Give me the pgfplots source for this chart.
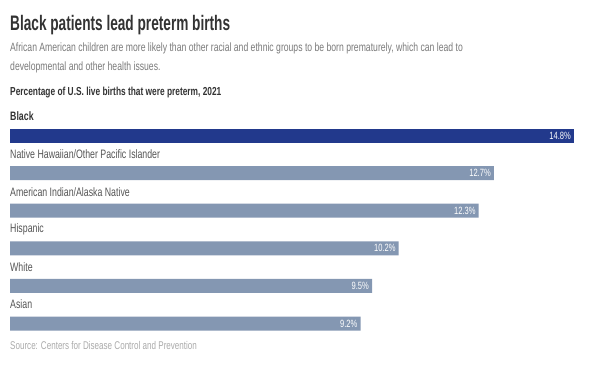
\documentclass[border=0pt]{standalone}
\usepackage{pgfplots}
\pgfplotsset{compat=1.18}
\usepackage{fontspec}
\setmainfont{Liberation Sans}[FakeStretch=0.72]
\newfontfamily\titlefont{Liberation Sans}[FakeStretch=0.65]
\definecolor{darkbar}{HTML}{22398C}
\definecolor{lightbar}{HTML}{8497B2}
\definecolor{titlec}{HTML}{333333}
\definecolor{labc}{HTML}{555555}
\definecolor{subc}{HTML}{7A7A7A}
\definecolor{srcc}{HTML}{AAAAAA}
\begin{document}
\begin{tikzpicture}[x=1pt,y=-1pt]
\path[use as bounding box] (0,0) rectangle (600,368);
\node[anchor=west,inner sep=0pt,font=\titlefont\fontsize{21}{24}\selectfont\bfseries,text=titlec] at (10,25) {Black patients lead preterm births};
\node[anchor=west,inner sep=0pt,font=\fontsize{12}{14}\selectfont,text=subc] at (10,48) {African American children are more likely than other racial and ethnic groups to be born prematurely, which can lead to};
\node[anchor=west,inner sep=0pt,font=\fontsize{12}{14}\selectfont,text=subc] at (10,67) {developmental and other health issues.};
\node[anchor=west,inner sep=0pt,font=\fontsize{11.6}{13}\selectfont\bfseries,text=titlec] at (10,93) {Percentage of U.S. live births that were preterm, 2021};
\node[anchor=west,inner sep=0pt,font=\fontsize{11.2}{13}\selectfont,text=srcc] at (10,345) {Source: Centers for Disease Control and Prevention};
\begin{axis}[
  at={(10pt,-116.7pt)}, anchor=north west,
  scale only axis, width=564pt, height=225.6pt,
  xmin=0, xmax=14.8, ymin=-0.5, ymax=5.5, y dir=reverse,
  axis lines=none, xtick=\empty, ytick=\empty,
  xbar, bar width=14pt, bar shift=0pt,
  clip=false,
  /pgf/number format/assume math mode=true,
  point meta=x,
  nodes near coords={\pgfmathprintnumber[fixed,fixed zerofill,precision=1]{\pgfplotspointmeta}\%},
  every node near coord/.append style={anchor=east, xshift=-3pt, text=white, font=\fontsize{10.5}{12}\selectfont, inner sep=0pt},
]
\addplot[fill=darkbar, draw=none] coordinates {(14.8,0)};
\addplot[fill=lightbar, draw=none] coordinates {(12.7,1) (12.3,2) (10.2,3) (9.5,4) (9.2,5)};
\begin{scope}[every node/.style={anchor=west,inner sep=0pt,text=labc,font=\fontsize{12.2}{14}\selectfont}]
\node[text=titlec,font=\fontsize{12.2}{14}\selectfont\bfseries] at ([yshift=19pt]axis cs:0,0) {Black};
\node at ([yshift=19pt]axis cs:0,1) {Native Hawaiian/Other Pacific Islander};
\node at ([yshift=19pt]axis cs:0,2) {American Indian/Alaska Native};
\node at ([yshift=19pt]axis cs:0,3) {Hispanic};
\node at ([yshift=19pt]axis cs:0,4) {White};
\node at ([yshift=19pt]axis cs:0,5) {Asian};
\end{scope}
\end{axis}
\end{tikzpicture}
\end{document}
